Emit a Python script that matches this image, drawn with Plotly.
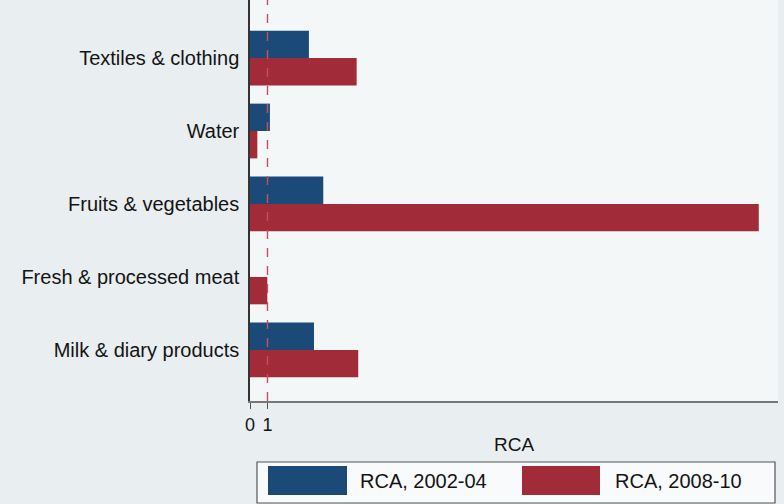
import plotly.graph_objects as go

# Revealed comparative advantage by product group
categories = [
    "Textiles & clothing",
    "Water",
    "Fruits & vegetables",
    "Fresh & processed meat",
    "Milk & diary products",
]
rca_2002_04 = [3.37, 1.14, 4.19, 0.0, 3.66]
rca_2008_10 = [6.10, 0.42, 29.1, 0.99, 6.19]
series_names = ["RCA, 2002-04", "RCA, 2008-10"]
x_ticks = [0, 1]

BLUE = "#1c4a78"
RED = "#a22b3a"
PAPER_BG = "#e9eef1"
PLOT_BG = "#f4f7f8"
TEXT = "#141414"
FONT = "Liberation Sans, Arial, Helvetica, sans-serif"

W, H = 784, 504
M_L, M_R, M_T, M_B = 250, 6, 0, 103
PW, PH = W - M_L - M_R, H - M_T - M_B


def px_x(px):
    return (px - M_L) / PW


def px_y(py):
    return (M_T + PH - py) / PH


fig = go.Figure()
fig.add_trace(go.Bar(y=categories, x=rca_2002_04, orientation="h",
                     name=series_names[0], marker=dict(color=BLUE, line_width=0),
                     showlegend=False))
fig.add_trace(go.Bar(y=categories, x=rca_2008_10, orientation="h",
                     name=series_names[1], marker=dict(color=RED, line_width=0),
                     showlegend=False))

# reference line at RCA = 1
fig.add_shape(type="line", xref="x", yref="paper", x0=1, x1=1, y0=0, y1=1,
              line=dict(color="#c4505e", width=1.4, dash="dash"))

# legend box with wide swatches
fig.add_shape(type="rect", xref="paper", yref="paper",
              x0=px_x(257), x1=px_x(775), y0=px_y(503), y1=px_y(462),
              line=dict(color="#555555", width=1.2), fillcolor="#f9fafb")
for (sx0, sx1, tx, col, name) in [(268, 347, 358, BLUE, series_names[0]),
                                  (522, 600, 613, RED, series_names[1])]:
    fig.add_shape(type="rect", xref="paper", yref="paper",
                  x0=px_x(sx0), x1=px_x(sx1), y0=px_y(495), y1=px_y(466),
                  line_width=0, fillcolor=col)
    fig.add_annotation(xref="paper", yref="paper", x=px_x(tx), y=px_y(481),
                       text=name, showarrow=False, xanchor="left", yanchor="middle",
                       font=dict(family=FONT, size=20, color=TEXT))

fig.update_layout(
    width=W, height=H,
    margin=dict(l=M_L, r=M_R, t=M_T, b=M_B, pad=0),
    paper_bgcolor=PAPER_BG, plot_bgcolor=PLOT_BG,
    barmode="group", bargap=0.25, bargroupgap=0,
    font=dict(family=FONT, size=20, color=TEXT),
)
fig.update_yaxes(
    type="category", categoryorder="array", categoryarray=categories,
    range=[4.7, -0.795], showgrid=False, zeroline=False,
    showline=True, linecolor="#333333", linewidth=1.5,
    ticks="", ticklabelstandoff=5,
    tickfont=dict(family=FONT, size=20, color=TEXT),
)
fig.update_xaxes(
    range=[0, 30.2], tickmode="array", tickvals=x_ticks,
    ticktext=[str(v) for v in x_ticks],
    showgrid=False, zeroline=False,
    showline=True, linecolor="#777777", linewidth=2,
    ticks="outside", ticklen=6, tickcolor="#555555", tickwidth=1,
    tickfont=dict(family=FONT, size=18, color=TEXT),
    title=dict(text="RCA", standoff=4, font=dict(family=FONT, size=19, color=TEXT)),
)

fig.write_html("out.html")
